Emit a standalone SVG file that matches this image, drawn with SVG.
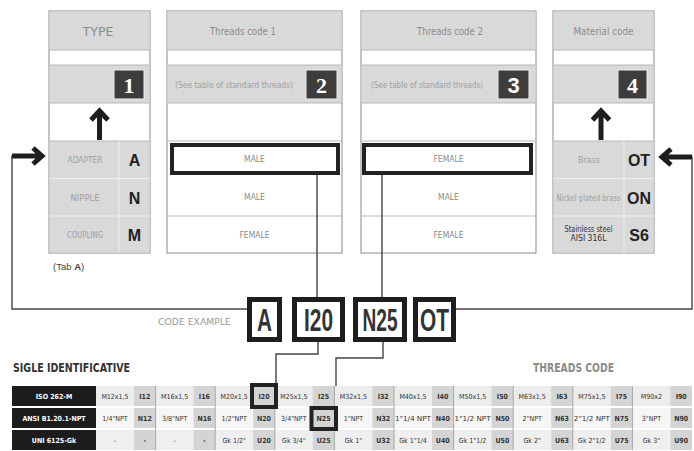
<svg xmlns="http://www.w3.org/2000/svg" width="694" height="451" viewBox="0 0 694 451">
<style>
.frame{fill:#fff;stroke:#8a8a8a;stroke-width:1}
.band{fill:#d9d9d9}
.sep{stroke:#b8b8b8;stroke-width:1}
.lsep{stroke:#eeeeee;stroke-width:1}
.hdr{font-family:"DejaVu Sans Condensed","Liberation Sans",sans-serif;font-size:10.5px;fill:#8c8c8c;text-anchor:middle}
.small{font-family:"DejaVu Sans Condensed","Liberation Sans",sans-serif;font-size:8px;fill:#a0a0a0;text-anchor:middle}
.row{font-family:"DejaVu Sans Condensed","Liberation Sans",sans-serif;font-size:8.5px;fill:#8a8a8a;text-anchor:middle}
.code{font-family:"Liberation Sans",sans-serif;font-size:16px;font-weight:bold;fill:#222;text-anchor:middle}
.numbox{fill:#3d3d3d;stroke:#eeeeee;stroke-width:1}
.num{font-family:"Liberation Serif",serif;font-size:22px;font-weight:bold;fill:#fff;text-anchor:middle}
.bold{fill:none;stroke:#222;stroke-width:4}
.arrow{fill:none;stroke:#1e1e1e;stroke-width:5;stroke-linejoin:miter}
.conn{fill:none;stroke:#444;stroke-width:1.4}
.cbox{fill:#fff;stroke:#1e1e1e;stroke-width:5}
.ctext{font-family:"Liberation Sans",sans-serif;font-size:32px;font-weight:bold;fill:#333;text-anchor:middle}
.tcell{font-family:"DejaVu Sans Condensed","Liberation Sans",sans-serif;font-size:7px;fill:#333;text-anchor:middle}
.tcode{font-family:"DejaVu Sans Condensed","Liberation Sans",sans-serif;font-size:7px;font-weight:bold;fill:#333;text-anchor:middle}
.tlab{font-family:"DejaVu Sans Condensed","Liberation Sans",sans-serif;font-size:7px;font-weight:bold;fill:#fff;text-anchor:middle}
</style>

<g id="panel-type">
<rect class="frame" x="49" y="11" width="101" height="242"/>
<rect class="band" x="49.5" y="11.5" width="100" height="38.5"/>
<line class="sep" x1="49" y1="50" x2="150" y2="50"/>
<rect class="band" x="49.5" y="65" width="100" height="38"/>
<line class="sep" x1="49" y1="65" x2="150" y2="65"/>
<line class="sep" x1="49" y1="103" x2="150" y2="103"/>
<text class="hdr" x="98" y="36" style="font-size:13px" textLength="31" lengthAdjust="spacingAndGlyphs">TYPE</text>
<rect class="numbox" x="114" y="70" width="30" height="29"/>
<text class="num" x="129" y="93">1</text>
<path class="arrow" d="M99.5,140 V112 M91,120 L99.5,111 L108,120"/>
<rect class="band" x="49.5" y="141" width="100" height="111.5"/>
<line class="sep" x1="49" y1="141" x2="150" y2="141"/>
<line class="lsep" x1="49.5" y1="178.5" x2="149.5" y2="178.5"/>
<line class="lsep" x1="49.5" y1="216" x2="149.5" y2="216"/>
<line class="lsep" x1="119" y1="141" x2="119" y2="252.5"/>
<text class="small" x="85" y="163" textLength="35" lengthAdjust="spacingAndGlyphs">ADAPTER</text>
<text class="small" x="85" y="201" textLength="29" lengthAdjust="spacingAndGlyphs">NIPPLE</text>
<text class="small" x="85" y="238" textLength="36" lengthAdjust="spacingAndGlyphs">COUPLING</text>
<text class="code" x="134.5" y="166">A</text>
<text class="code" x="134.5" y="204">N</text>
<text class="code" x="134.5" y="241">M</text>
</g>

<g id="panel-threads1">
<rect class="frame" x="167" y="11" width="175" height="242"/>
<rect class="band" x="167.5" y="11.5" width="174" height="38.5"/>
<line class="sep" x1="167" y1="50" x2="342" y2="50"/>
<rect class="band" x="167.5" y="65" width="174" height="38"/>
<line class="sep" x1="167" y1="65" x2="342" y2="65"/>
<line class="sep" x1="167" y1="103" x2="342" y2="103"/>
<line class="sep" x1="167" y1="141" x2="342" y2="141"/>
<line class="sep" x1="167" y1="216" x2="342" y2="216"/>
<text class="hdr" x="243" y="35" textLength="66" lengthAdjust="spacingAndGlyphs">Threads code 1</text>
<text class="small" x="234" y="88" textLength="118" lengthAdjust="spacingAndGlyphs">(See table of standard threads)</text>
<rect class="numbox" x="306" y="70" width="31" height="29"/>
<text class="num" x="321.5" y="93">2</text>
<rect class="bold" x="172" y="145" width="166" height="28"/>
<text class="row" x="254.5" y="162">MALE</text>
<text class="row" x="254.5" y="200">MALE</text>
<text class="row" x="254.5" y="238">FEMALE</text>
</g>

<g id="panel-threads2">
<rect class="frame" x="361" y="11" width="175" height="242"/>
<rect class="band" x="361.5" y="11.5" width="174" height="38.5"/>
<line class="sep" x1="361" y1="50" x2="536" y2="50"/>
<rect class="band" x="361.5" y="65" width="174" height="38"/>
<line class="sep" x1="361" y1="65" x2="536" y2="65"/>
<line class="sep" x1="361" y1="103" x2="536" y2="103"/>
<line class="sep" x1="361" y1="141" x2="536" y2="141"/>
<line class="sep" x1="361" y1="216" x2="536" y2="216"/>
<text class="hdr" x="450" y="35" textLength="66" lengthAdjust="spacingAndGlyphs">Threads code 2</text>
<text class="small" x="427" y="88" textLength="112" lengthAdjust="spacingAndGlyphs">(See table of standard threads)</text>
<rect class="numbox" x="498" y="70" width="31" height="29"/>
<text class="num" x="513.5" y="93" style="font-family:'Liberation Sans',sans-serif">3</text>
<rect class="bold" x="364" y="145" width="167" height="28"/>
<text class="row" x="448.5" y="162">FEMALE</text>
<text class="row" x="448.5" y="200">MALE</text>
<text class="row" x="448.5" y="238">FEMALE</text>
</g>

<g id="panel-material">
<rect class="frame" x="553" y="11" width="101" height="242"/>
<rect class="band" x="553.5" y="11.5" width="100" height="38.5"/>
<line class="sep" x1="553" y1="50" x2="654" y2="50"/>
<rect class="band" x="553.5" y="65" width="100" height="38"/>
<line class="sep" x1="553" y1="65" x2="654" y2="65"/>
<line class="sep" x1="553" y1="103" x2="654" y2="103"/>
<text class="hdr" x="603.5" y="35" textLength="60" lengthAdjust="spacingAndGlyphs">Material code</text>
<rect class="numbox" x="618" y="70" width="29" height="29"/>
<text class="num" x="632.5" y="93">4</text>
<path class="arrow" d="M601,140 V112 M592.5,120 L601,111 L609.5,120"/>
<rect class="band" x="553.5" y="141" width="100" height="111.5"/>
<line class="sep" x1="553" y1="141" x2="654" y2="141"/>
<line class="lsep" x1="553.5" y1="178.5" x2="653.5" y2="178.5"/>
<line class="lsep" x1="553.5" y1="216" x2="653.5" y2="216"/>
<line class="lsep" x1="624" y1="141" x2="624" y2="252.5"/>
<text class="small" x="589" y="163" textLength="22" lengthAdjust="spacingAndGlyphs">Brass</text>
<text class="small" x="588.5" y="201" textLength="64" lengthAdjust="spacingAndGlyphs">Nickel plated brass</text>
<text class="small" x="588.5" y="232" style="fill:#333" textLength="48" lengthAdjust="spacingAndGlyphs">Stainless steel</text>
<text class="small" x="588.5" y="241" style="fill:#333" textLength="36" lengthAdjust="spacingAndGlyphs">AISI 316L</text>
<text class="code" x="639" y="166">OT</text>
<text class="code" x="639" y="204">ON</text>
<text class="code" x="639" y="241">S6</text>
</g>

<g id="notes">
<text x="53" y="270" font-family="Liberation Sans,sans-serif" font-size="9.5" fill="#444">(Tab <tspan font-weight="bold">A</tspan>)</text>
<text x="158" y="325" font-family="DejaVu Sans Condensed,Liberation Sans,sans-serif" font-size="9" fill="#9a9a9a" textLength="73" lengthAdjust="spacingAndGlyphs">CODE EXAMPLE</text>
</g>

<g id="connectors">
<path class="conn" d="M247,309 H12 V156 H38"/>
<path class="arrow" d="M12,156 H40 M33,148 L42,156 L33,164"/>
<path class="conn" d="M456,309 H692 V157 H666"/>
<path class="arrow" d="M692,157 H664 M671,149 L662,157 L671,165"/>
<path class="conn" d="M317,175 V297"/>
<path class="conn" d="M382,175 V297"/>
<path class="conn" d="M318,342 V354 H276 V383"/>
<path class="conn" d="M383,342 V358 H336 V407"/>
</g>

<g id="code-example">
<rect class="cbox" x="249.5" y="299.5" width="30" height="40"/>
<text class="ctext" x="264.5" y="331" textLength="15" lengthAdjust="spacingAndGlyphs">A</text>
<rect class="cbox" x="294.5" y="299.5" width="48" height="40"/>
<text class="ctext" x="318.5" y="331" textLength="29" lengthAdjust="spacingAndGlyphs">I20</text>
<rect class="cbox" x="355.5" y="299.5" width="49" height="40"/>
<text class="ctext" x="380" y="331" textLength="35" lengthAdjust="spacingAndGlyphs">N25</text>
<rect class="cbox" x="415.5" y="299.5" width="38" height="40"/>
<text class="ctext" x="434.5" y="331" textLength="29" lengthAdjust="spacingAndGlyphs">OT</text>
</g>

<g id="table-titles">
<text x="13" y="372" font-family="DejaVu Sans Condensed,Liberation Sans,sans-serif" font-size="13" font-weight="bold" fill="#333" textLength="117" lengthAdjust="spacingAndGlyphs">SIGLE IDENTIFICATIVE</text>
<text x="533" y="372" font-family="DejaVu Sans Condensed,Liberation Sans,sans-serif" font-size="13" font-weight="bold" fill="#8a8a8a" textLength="81" lengthAdjust="spacingAndGlyphs">THREADS CODE</text>
</g>

<g id="threads-table">
<rect x="96" y="386" width="596" height="20" fill="#ececec"/>
<rect x="96" y="408" width="596" height="20" fill="#f6f6f6"/>
<rect x="96" y="430" width="596" height="20" fill="#efefef"/>
<g fill="#d4d4d4">
<rect x="134" y="386" width="21.6" height="64"/>
<rect x="193.6" y="386" width="21.6" height="64"/>
<rect x="253.2" y="386" width="21.6" height="64"/>
<rect x="312.8" y="386" width="21.6" height="64"/>
<rect x="372.4" y="386" width="21.6" height="64"/>
<rect x="432" y="386" width="21.6" height="64"/>
<rect x="491.6" y="386" width="21.6" height="64"/>
<rect x="551.2" y="386" width="21.6" height="64"/>
<rect x="610.8" y="386" width="21.6" height="64"/>
<rect x="670.4" y="386" width="21.6" height="64"/>
</g>
<rect x="12" y="386" width="84" height="64" fill="#1c1c1c"/>
<rect x="12" y="406" width="680" height="2" fill="#fff"/>
<rect x="12" y="428" width="680" height="2" fill="#fff"/>
<g stroke="#a8a8a8" stroke-width="1">
<line x1="155.6" y1="386" x2="155.6" y2="450"/>
<line x1="215.2" y1="386" x2="215.2" y2="450"/>
<line x1="274.8" y1="386" x2="274.8" y2="450"/>
<line x1="334.4" y1="386" x2="334.4" y2="450"/>
<line x1="394" y1="386" x2="394" y2="450"/>
<line x1="453.6" y1="386" x2="453.6" y2="450"/>
<line x1="513.2" y1="386" x2="513.2" y2="450"/>
<line x1="572.8" y1="386" x2="572.8" y2="450"/>
<line x1="632.4" y1="386" x2="632.4" y2="450"/>
</g>
<text class="tlab" x="54" y="399">ISO 262-M</text>
<text class="tlab" x="54" y="421">ANSI B1.20.1-NPT</text>
<text class="tlab" x="54" y="443">UNI 6125-Gk</text>

<text class="tcell" x="115" y="399">M12x1,5</text><text class="tcode" x="144.8" y="399">I12</text>
<text class="tcell" x="174.6" y="399">M16x1,5</text><text class="tcode" x="204.4" y="399">I16</text>
<text class="tcell" x="234.2" y="399">M20x1,5</text><text class="tcode" x="264" y="399">I20</text>
<text class="tcell" x="293.8" y="399">M25x1,5</text><text class="tcode" x="323.6" y="399">I25</text>
<text class="tcell" x="353.4" y="399">M32x1,5</text><text class="tcode" x="383.2" y="399">I32</text>
<text class="tcell" x="413" y="399">M40x1,5</text><text class="tcode" x="442.8" y="399">I40</text>
<text class="tcell" x="472.6" y="399">M50x1,5</text><text class="tcode" x="502.4" y="399">I50</text>
<text class="tcell" x="532.2" y="399">M63x1,5</text><text class="tcode" x="562" y="399">I63</text>
<text class="tcell" x="591.8" y="399">M75x1,5</text><text class="tcode" x="621.6" y="399">I75</text>
<text class="tcell" x="651.4" y="399">M90x2</text><text class="tcode" x="681.2" y="399">I90</text>

<text class="tcell" x="115" y="421">1/4"NPT</text><text class="tcode" x="144.8" y="421">N12</text>
<text class="tcell" x="174.6" y="421">3/8"NPT</text><text class="tcode" x="204.4" y="421">N16</text>
<text class="tcell" x="234.2" y="421">1/2"NPT</text><text class="tcode" x="264" y="421">N20</text>
<text class="tcell" x="293.8" y="421">3/4"NPT</text><text class="tcode" x="323.6" y="421">N25</text>
<text class="tcell" x="353.4" y="421">1"NPT</text><text class="tcode" x="383.2" y="421">N32</text>
<text class="tcell" x="413" y="421" textLength="36" lengthAdjust="spacingAndGlyphs">1"1/4 NPT</text><text class="tcode" x="442.8" y="421">N40</text>
<text class="tcell" x="472.6" y="421" textLength="36" lengthAdjust="spacingAndGlyphs">1"1/2 NPT</text><text class="tcode" x="502.4" y="421">N50</text>
<text class="tcell" x="532.2" y="421">2"NPT</text><text class="tcode" x="562" y="421">N63</text>
<text class="tcell" x="591.8" y="421" textLength="36" lengthAdjust="spacingAndGlyphs">2"1/2 NPT</text><text class="tcode" x="621.6" y="421">N75</text>
<text class="tcell" x="651.4" y="421">3"NPT</text><text class="tcode" x="681.2" y="421">N90</text>

<text class="tcell" x="115" y="443">-</text><text class="tcode" x="144.8" y="443">-</text>
<text class="tcell" x="174.6" y="443">-</text><text class="tcode" x="204.4" y="443">-</text>
<text class="tcell" x="234.2" y="443">Gk 1/2"</text><text class="tcode" x="264" y="443">U20</text>
<text class="tcell" x="293.8" y="443">Gk 3/4"</text><text class="tcode" x="323.6" y="443">U25</text>
<text class="tcell" x="353.4" y="443">Gk 1"</text><text class="tcode" x="383.2" y="443">U32</text>
<text class="tcell" x="413" y="443">Gk 1"1/4</text><text class="tcode" x="442.8" y="443">U40</text>
<text class="tcell" x="472.6" y="443">Gk 1"1/2</text><text class="tcode" x="502.4" y="443">U50</text>
<text class="tcell" x="532.2" y="443">Gk 2"</text><text class="tcode" x="562" y="443">U63</text>
<text class="tcell" x="591.8" y="443">Gk 2"1/2</text><text class="tcode" x="621.6" y="443">U75</text>
<text class="tcell" x="651.4" y="443">Gk 3"</text><text class="tcode" x="681.2" y="443">U90</text>

<rect class="bold" x="252" y="385" width="24" height="22" stroke-width="3.5"/>
<rect class="bold" x="311.5" y="408" width="24.5" height="21" stroke-width="3.5"/>
</g>
</svg>
